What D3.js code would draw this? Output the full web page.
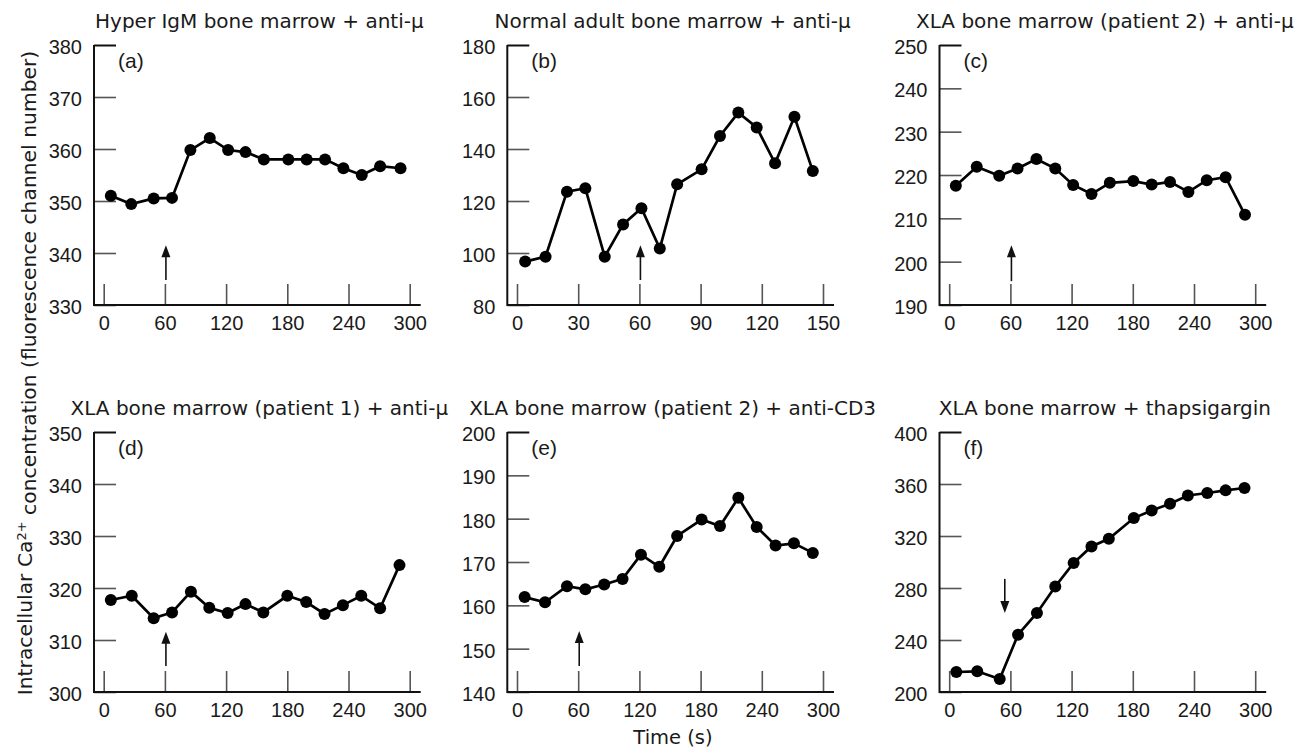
<!DOCTYPE html>
<html>
<head>
<meta charset="utf-8">
<script src="https://cdn.jsdelivr.net/npm/d3@7"></script>
<style>
  body { margin: 0; background: #fff; }
  svg text { fill: #1a1a1a; }
  .title, .axisTitle { font-family: "DejaVu Sans", sans-serif; }
  .tick text, .letter { font-family: "Liberation Sans", Arial, sans-serif; }
  .tick line { stroke: #555; stroke-width: 1.6; }
  .axisLine { stroke: #111; stroke-width: 2; fill: none; }
  .dataLine { stroke: #000; stroke-width: 2.7; fill: none; }
  .dot { fill: #000; }
  .arrow { stroke: #111; stroke-width: 1.6; }
</style>
</head>
<body>
<script>
//panel titles and letters
var titles = ["Hyper IgM bone marrow + anti-\u03bc",
              "Normal adult bone marrow + anti-\u03bc",
              "XLA bone marrow (patient 2) + anti-\u03bc",
              "XLA bone marrow (patient 1) + anti-\u03bc",
              "XLA bone marrow (patient 2) + anti-CD3",
              "XLA bone marrow + thapsigargin"];
var letters = ["(a)", "(b)", "(c)", "(d)", "(e)", "(f)"];

//time points (s) and values (fluorescence channel number)
var timesA = [7, 27, 49, 67, 85, 104, 122, 139, 157, 181, 199, 217, 235, 253, 271, 291];
var valuesA = [351.0, 349.4, 350.5, 350.6, 359.8, 362.1, 359.8, 359.4, 358.0, 358.0, 358.0, 358.0, 356.3, 355.0, 356.7, 356.3];

var timesB = [4, 14, 24.5, 33.5, 43, 52, 61, 70, 78.5, 90.5, 99.5, 108.5, 117.5, 126.5, 136, 145];
var valuesB = [96.7, 98.6, 123.6, 124.9, 98.6, 111, 117.2, 101.7, 126.4, 132.2, 145, 154, 148.3, 134.5, 152.4, 131.5];

var timesC = [6.5, 27, 49, 67, 85.5, 104, 121.5, 139.5, 157.5, 180.5, 198.5, 216.5, 234.5, 252.5, 271, 290];
var valuesC = [217.5, 221.9, 219.8, 221.5, 223.7, 221.5, 217.7, 215.6, 218.2, 218.6, 217.8, 218.4, 216.1, 218.8, 219.5, 210.8];

var timesD = [7, 27.5, 49, 67, 85.5, 103.5, 121.5, 139, 156.5, 180, 198.5, 216.5, 234.5, 252.5, 271, 290];
var valuesD = [317.7, 318.5, 314.2, 315.3, 319.3, 316.2, 315.2, 316.9, 315.3, 318.5, 317.3, 315.0, 316.7, 318.5, 316.1, 324.4];

var timesE = [7.5, 27.5, 49, 67, 85.5, 103.5, 121.5, 139.5, 157, 181, 199, 217, 235, 253.5, 271.5, 290];
var valuesE = [161.9, 160.7, 164.4, 163.7, 164.8, 166.1, 171.7, 168.9, 176.0, 179.8, 178.3, 184.8, 178.1, 173.8, 174.3, 172.1];

var timesF = [7, 27.5, 49.5, 67.5, 86, 104, 122, 139.5, 156.5, 181, 198.5, 216.5, 234, 253, 271, 289.5];
var valuesF = [215.4, 215.9, 210, 244.1, 260.8, 281.2, 299.2, 312, 317.9, 333.8, 339.7, 344.8, 351.2, 353.1, 355.1, 356.9];

//axis domains and tick labels
var yDomains = [[330, 380], [80, 180], [190, 250], [300, 350], [140, 200], [200, 400]];
var yTicksA = [330, 340, 350, 360, 370, 380],
    yTicksB = [80, 100, 120, 140, 160, 180],
    yTicksC = [190, 200, 210, 220, 230, 240, 250],
    yTicksD = [300, 310, 320, 330, 340, 350],
    yTicksE = [140, 150, 160, 170, 180, 190, 200],
    yTicksF = [200, 240, 280, 320, 360, 400];
var xTicks300 = [0, 60, 120, 180, 240, 300],
    xTicks150 = [0, 30, 60, 90, 120, 150];

//stimulus arrows: [time, tail value, tip value]
var arrowA = [61, 334.8, 341.5],
    arrowB = [60.5, 89.6, 103],
    arrowC = [61, 195.5, 203.8],
    arrowD = [61, 305, 311.6],
    arrowE = [61, 146, 154.1],
    arrowF = [54.5, 287, 260.8];

var times = [timesA, timesB, timesC, timesD, timesE, timesF];
var values = [valuesA, valuesB, valuesC, valuesD, valuesE, valuesF];
var yTicks = [yTicksA, yTicksB, yTicksC, yTicksD, yTicksE, yTicksF];
var xTicks = [xTicks300, xTicks150, xTicks300, xTicks300, xTicks300, xTicks300];
var arrows = [arrowA, arrowB, arrowC, arrowD, arrowE, arrowF];

var width = 1308,
    height = 751;

var svg = d3.select("body")
    .append("svg")
    .attr("width", width)
    .attr("height", height);

//frame positions
var axisXs = [94, 507.3, 939.5],
    rowTops = [45, 432],
    plotH = 260,
    plotW = 306;

titles.forEach(function(title, i){
    var col = i % 3,
        row = Math.floor(i / 3);
    var axisX = axisXs[col],
        x0 = axisX + 9.7,
        top = rowTops[row],
        bottom = top + plotH;

    var x = d3.scaleLinear()
        .domain([0, xTicks[i][xTicks[i].length - 1]])
        .range([x0, x0 + plotW]);
    var y = d3.scaleLinear()
        .domain(yDomains[i])
        .range([bottom, top]);

    var g = svg.append("g").attr("class", "panel");

    //y axis with inward ticks
    var yAxis = g.append("g")
        .attr("transform", "translate(" + axisX + ",0)")
        .call(d3.axisLeft(y)
            .tickValues(yTicks[i])
            .tickSizeInner(-22)
            .tickSizeOuter(0)
            .tickPadding(12));
    yAxis.select(".domain").remove();
    yAxis.selectAll("text").style("font-size", "20px").attr("dy", "0.42em");
    yAxis.selectAll(".tick").filter(function(d){ return d === yDomains[i][1]; })
        .select("line").style("stroke", "#111").style("stroke-width", 2);

    //x axis with inward ticks
    var xAxis = g.append("g")
        .attr("transform", "translate(0," + bottom + ")")
        .call(d3.axisBottom(x)
            .tickValues(xTicks[i])
            .tickSizeInner(-21)
            .tickSizeOuter(0)
            .tickPadding(11));
    xAxis.select(".domain").remove();
    xAxis.selectAll("text").style("font-size", "20px");

    //axis lines
    g.append("path")
        .attr("class", "axisLine")
        .attr("d", "M" + axisX + "," + top + "V" + bottom + "H" + (x0 + 317));

    //stimulus arrow
    var ar = arrows[i],
        ax = x(ar[0]),
        yTail = y(ar[1]),
        yTip = y(ar[2]),
        dir = yTip < yTail ? 1 : -1;
    g.append("line")
        .attr("class", "arrow")
        .attr("x1", ax).attr("x2", ax)
        .attr("y1", yTail).attr("y2", yTip + dir * 10);
    g.append("path")
        .attr("fill", "#111")
        .attr("d", "M" + ax + "," + yTip + "L" + (ax - 4.5) + "," + (yTip + dir * 12) +
                   "L" + (ax + 4.5) + "," + (yTip + dir * 12) + "Z");

    //data line and markers
    var pts = times[i].map(function(t, k){ return [t, values[i][k]]; });
    g.append("path")
        .datum(pts)
        .attr("class", "dataLine")
        .attr("d", d3.line()
            .x(function(d){ return x(d[0]); })
            .y(function(d){ return y(d[1]); }));
    g.selectAll(".dot")
        .data(pts)
        .enter()
        .append("circle")
        .attr("class", "dot")
        .attr("cx", function(d){ return x(d[0]); })
        .attr("cy", function(d){ return y(d[1]); })
        .attr("r", 6);

    //title and panel letter
    g.append("text")
        .attr("class", "title")
        .attr("x", (axisX + x0 + 317) / 2 + 2)
        .attr("y", top - 17)
        .attr("text-anchor", "middle")
        .style("font-size", "20px")
        .text(title);
    g.append("text")
        .attr("class", "letter")
        .attr("x", axisX + 24)
        .attr("y", top + 23)
        .style("font-size", "21px")
        .text(letters[i]);
});

//shared axis titles
var yLabel = svg.append("text")
    .attr("class", "axisTitle")
    .attr("transform", "translate(32,373) rotate(-90)")
    .attr("text-anchor", "middle")
    .style("font-size", "20.3px");
yLabel.append("tspan").text("Intracellular Ca");
yLabel.append("tspan").attr("dy", "-0.5em").style("font-size", "13px").text("2+");
yLabel.append("tspan").attr("dy", "0.5em").text(" concentration (fluorescence channel number)");

svg.append("text")
    .attr("class", "axisTitle")
    .attr("x", 673)
    .attr("y", 744)
    .attr("text-anchor", "middle")
    .style("font-size", "19.5px")
    .text("Time (s)");
</script>
</body>
</html>
